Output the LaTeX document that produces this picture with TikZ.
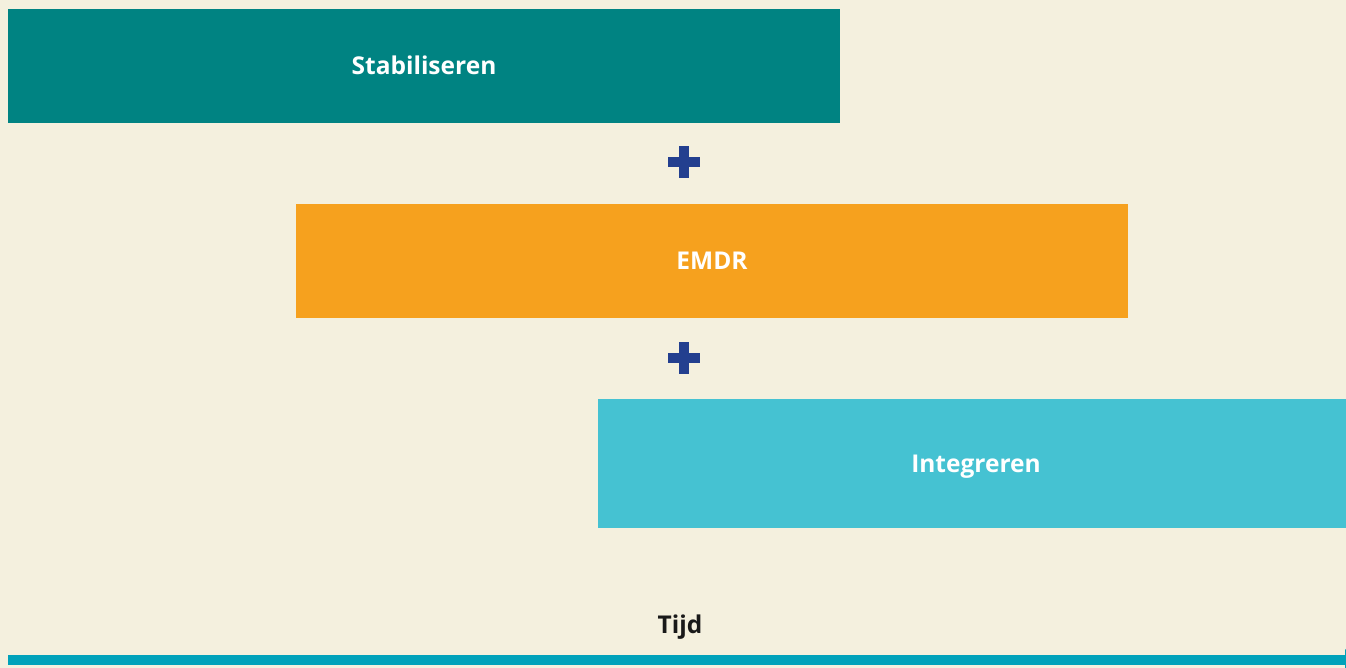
\documentclass[tikz,border=0pt]{standalone}
\usepackage{fontspec}
\setmainfont{Open Sans}
\usetikzlibrary{arrows.meta}
\definecolor{paper}{HTML}{F4F0DE}
\definecolor{stabcol}{HTML}{008382}
\definecolor{emdrcol}{HTML}{F6A11E}
\definecolor{intcol}{HTML}{45C2D2}
\definecolor{pluscol}{HTML}{233F8F}
\definecolor{timecol}{HTML}{00A2BA}
\begin{document}
\begin{tikzpicture}[x=1pt,y=-1pt,
      every node/.append style={font=\fontsize{24.5}{28}\selectfont\bfseries,inner sep=0pt}]
    \tikzstyle{phase} = [text=white,minimum height=114pt,text height=18pt,text depth=0pt]
    \tikzstyle{plus} = [fill=pluscol]
    \fill[paper] (0,0) rectangle (1346,668);
    \useasboundingbox (0,0) rectangle (1346,668);
    \node (stab) [phase,fill=stabcol,minimum width=832pt] at (424,66) {Stabiliseren};
    \node (emdr) [phase,fill=emdrcol,minimum width=832pt] at (712,261) {EMDR};
    \node (int) [phase,fill=intcol,minimum width=748pt,minimum height=129pt] at (972,463.5) {\hspace*{8pt}Integreren};
    \coordinate (plusA) at (684,162);
    \coordinate (plusB) at (684,358);
    % plus signs
    \foreach \p in {plusA,plusB} {
      \fill[plus] ([xshift=-16pt,yshift=5pt]\p) rectangle ([xshift=16pt,yshift=-5pt]\p);
      \fill[plus] ([xshift=-5pt,yshift=16pt]\p) rectangle ([xshift=5pt,yshift=-16pt]\p);
    }
    \node (tijd) [text=black!90] at (680,627) {Tijd};
    \coordinate (t0) at (8,660);
    \coordinate (t1) at (1353,660);
    \draw[timecol,line width=10pt,-{Triangle[length=8pt,width=22pt]}] (t0) -- (t1);
  \end{tikzpicture}
\end{document}
